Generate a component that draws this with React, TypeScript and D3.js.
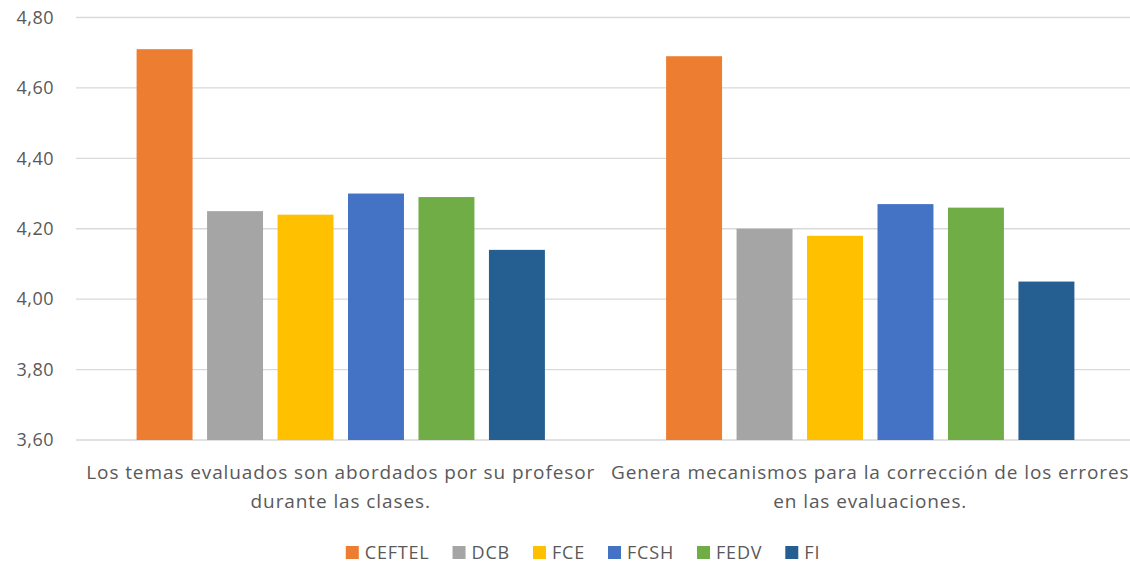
import React, { useEffect, useRef } from 'react';
import * as d3 from 'd3';

const categories = [
  ['Los temas evaluados son abordados por su profesor', 'durante las clases.'],
  ['Genera mecanismos para la corrección de los errores', 'en las evaluaciones.'],
];
const seriesNames = ['CEFTEL', 'DCB', 'FCE', 'FCSH', 'FEDV', 'FI'];
const seriesColors = ['#ED7D31', '#A5A5A5', '#FFC000', '#4472C4', '#70AD47', '#255E91'];
const values1 = [4.71, 4.25, 4.24, 4.30, 4.29, 4.14];
const values2 = [4.69, 4.20, 4.18, 4.27, 4.26, 4.05];
const yTicks = [3.6, 3.8, 4.0, 4.2, 4.4, 4.6, 4.8];

const W = 1130;
const H = 564;
const FONT = '"Open Sans", Lato, sans-serif';
const TEXT = '#595959';

const App: React.FC = () => {
  const ref = useRef<SVGSVGElement>(null);

  useEffect(() => {
    document.body.style.margin = '0';
    document.body.style.overflow = 'hidden';
    if (!ref.current) return;
    const svg = d3.select(ref.current);
    svg.selectAll('*').remove();

    const plot = { left: 76, right: 1135, top: 17.5, bottom: 440 };
    const keys = ['c0', 'c1'];
    const data = [values1, values2];

    const y = d3.scaleLinear().domain([3.6, 4.8]).range([plot.bottom, plot.top]);
    const x0 = d3.scaleBand<string>().domain(keys).range([plot.left, plot.right]);
    const x1 = d3.scaleBand<string>()
      .domain(seriesNames)
      .range([0, x0.bandwidth()])
      .paddingInner(0.206)
      .paddingOuter(0.86);

    // gridlines
    svg.append('g')
      .selectAll('line')
      .data(yTicks)
      .join('line')
      .attr('x1', plot.left)
      .attr('x2', W)
      .attr('y1', d => y(d))
      .attr('y2', d => y(d))
      .attr('stroke', '#d9d9d9')
      .attr('stroke-width', 1.3);

    // y labels
    svg.append('g')
      .selectAll('text')
      .data(yTicks)
      .join('text')
      .attr('x', 54)
      .attr('y', d => y(d))
      .attr('dy', '0.35em')
      .attr('text-anchor', 'end')
      .attr('fill', TEXT)
      .style('font-family', FONT)
      .style('font-size', '18px')
      .style('letter-spacing', '0.5px')
      .text(d => d3.format('.2f')(d).replace('.', ','));

    // bars + category labels
    data.forEach((vals, ci) => {
      const g = svg.append('g').attr('transform', `translate(${x0(keys[ci])},0)`);
      g.selectAll('rect')
        .data(vals)
        .join('rect')
        .attr('x', (_, i) => x1(seriesNames[i])!)
        .attr('width', x1.bandwidth())
        .attr('y', d => y(d))
        .attr('height', d => plot.bottom - y(d))
        .attr('fill', (_, i) => seriesColors[i]);

      const cx = x0(keys[ci])! + x0.bandwidth() / 2;
      const t = svg.append('text')
        .attr('y', 479)
        .attr('text-anchor', 'middle')
        .attr('fill', TEXT)
        .style('font-family', FONT)
        .style('font-size', '19px')
        .style('letter-spacing', '0.9px');
      categories[ci].forEach((line, li) => {
        t.append('tspan')
          .attr('x', cx)
          .attr('dy', li === 0 ? 0 : 29)
          .text(line);
      });
    });

    // legend
    const lg = svg.append('g');
    seriesNames.forEach((name, i) => {
      const item = lg.append('g');
      item.append('rect')
        .attr('x', 0)
        .attr('y', -7)
        .attr('width', 13)
        .attr('height', 13)
        .attr('fill', seriesColors[i]);
      item.append('text')
        .attr('x', 19)
        .attr('dy', '0.35em')
        .attr('fill', TEXT)
        .style('font-family', FONT)
        .style('font-size', '18px')
        .style('letter-spacing', '0.8px')
        .text(name);
    });
    const widths: number[] = [];
    lg.selectAll<SVGGElement, unknown>('g').each(function () {
      widths.push(this.getBBox().width);
    });
    const gap = 23;
    const total = d3.sum(widths) + gap * (widths.length - 1);
    const start = 583 - total / 2;
    let off = 0;
    lg.selectAll<SVGGElement, unknown>('g').each(function (_, i) {
      d3.select(this).attr('transform', `translate(${start + off},553)`);
      off += widths[i] + gap;
    });
  }, []);

  return (
    <div>
      <svg ref={ref} width={W} height={H} style={{ display: 'block', background: '#fff' }} />
    </div>
  );
};

export default App;
